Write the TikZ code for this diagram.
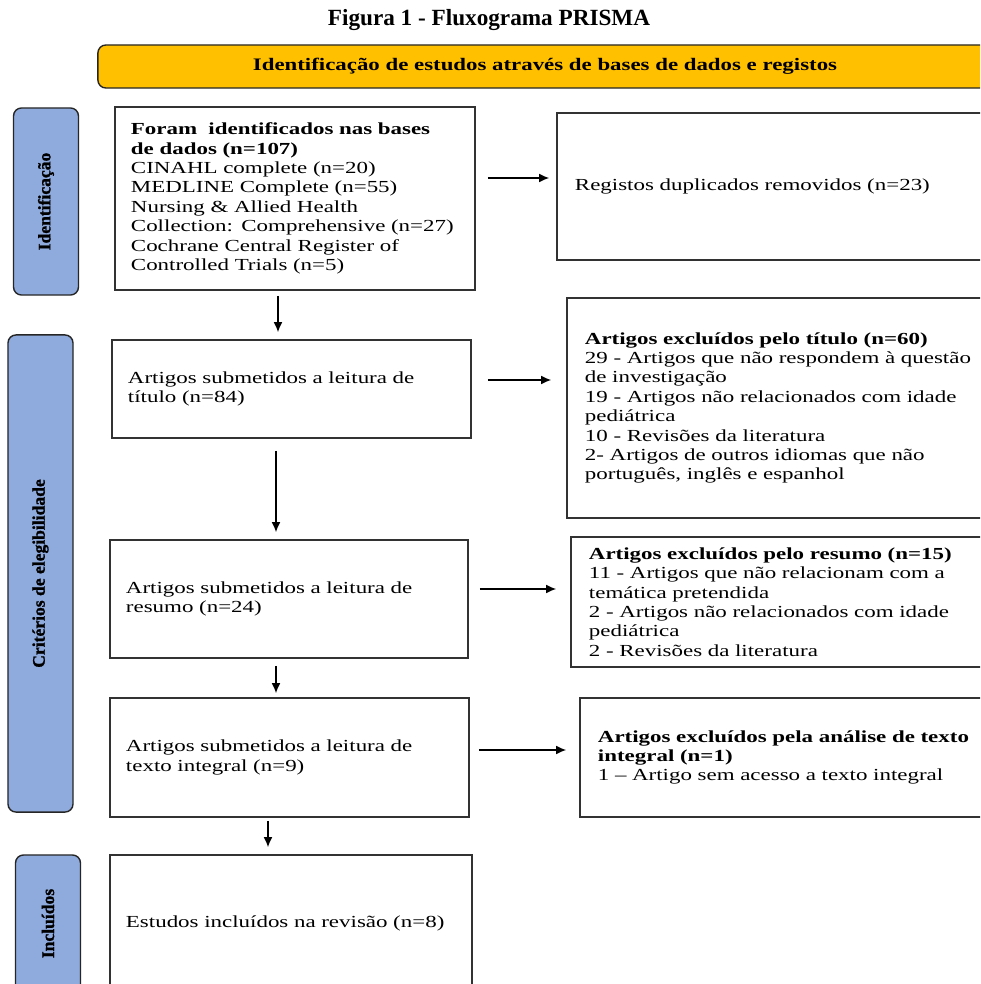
\documentclass[tikz,border=0pt]{standalone}
\usepackage{fontspec}
\setmainfont{Liberation Serif}
\newfontfamily\boxfont[FakeStretch=1.36]{Liberation Serif}
\newfontfamily\bannerfont[FakeStretch=1.3]{Liberation Serif}
\newfontfamily\sidefont[BoldFeatures={FakeBold=1.2}]{Liberation Serif}
\usetikzlibrary{positioning,arrows.meta}
\definecolor{bannerfill}{RGB}{255,192,0}
\definecolor{sidefill}{RGB}{143,170,220}
\definecolor{boxline}{RGB}{50,50,50}
\tikzset{
  mainbox/.style={draw=boxline, line width=1.1pt, rectangle, align=left,
    inner xsep=0.4cm, inner ysep=0.1cm,
    font=\boxfont\fontsize{12}{13.8}\selectfont},
  sidebox/.style={draw=black!85, fill=sidefill, line width=1pt,
    rounded corners=0.2cm, rotate=90, minimum height=1.625cm,
    font=\sidefont\bfseries\fontsize{12.5}{14}\selectfont},
  arr/.style={-{Latex[length=0.25cm,width=0.22cm]}, line width=0.9pt}
}
\begin{document}
\begin{tikzpicture}[x=0.025cm, y=-0.025cm]
  \useasboundingbox (0,0) rectangle (980,984);
  \clip (0,0) rectangle (980,984);

  % title and banner
  \node[font=\bfseries\fontsize{16.5}{19}\selectfont] (title) at (489,20)
    {Figura 1 - Fluxograma PRISMA};
  \node[draw=black!85, fill=bannerfill, line width=1pt, rounded corners=0.2cm,
    minimum width=22.35cm, minimum height=1.075cm,
    font=\bannerfont\bfseries\fontsize{12.5}{14}\selectfont] (banner) at (545,66.5)
    {Identificação de estudos através de bases de dados e registos};

  % phases
  \node[sidebox, minimum width=4.675cm] (ident) at (46,201.5) {Identificação};
  \node[sidebox, minimum width=11.925cm] (crit) at (40.5,573.5) {Critérios de elegibilidade};
  \node[sidebox, minimum width=3.425cm] (incl) at (48,923.5) {Incluídos};

  % main column
  \node[mainbox, text width=8.2cm, minimum height=4.575cm] (ids) at (295,198.5)
    {\textbf{Foram\ \ identificados nas bases}\\
     \textbf{de dados (n=107)}\\
     CINAHL complete (n=20)\\
     MEDLINE Complete (n=55)\\
     Nursing \& Allied Health\\
     Collection: Comprehensive (n=27)\\
     Cochrane Central Register of\\
     Controlled Trials (n=5)};
  \node[mainbox, text width=8.175cm, minimum height=2.45cm] (titulo) at (291.5,389)
    {Artigos submetidos a leitura de\\ título (n=84)};
  \node[mainbox, text width=8.15cm, minimum height=2.95cm] (resumo) at (289,599)
    {Artigos submetidos a leitura de\\ resumo (n=24)};
  \node[mainbox, text width=8.175cm, minimum height=2.975cm] (integral) at (289.5,757.5)
    {Artigos submetidos a leitura de\\ texto integral (n=9)};
  \node[mainbox, text width=8.25cm, minimum height=3.425cm] (incluidos) at (291,923.5)
    {Estudos incluídos na revisão (n=8)};

  % exclusions
  \node[mainbox, inner xsep=0.45cm, text width=10.175cm, minimum height=3.675cm] (dup) at (778.5,186.5)
    {Registos duplicados removidos (n=23)};
  \node[mainbox, inner xsep=0.45cm, text width=9.925cm, minimum height=5.5cm] (extitulo) at (783.5,408)
    {\textbf{Artigos excluídos pelo título (n=60)}\\
     29 - Artigos que não respondem à questão\\
     de investigação\\
     19 - Artigos não relacionados com idade\\
     pediátrica\\
     10 - Revisões da literatura\\
     2- Artigos de outros idiomas que não\\
     português, inglês e espanhol};
  \node[mainbox, inner xsep=0.45cm, text width=9.825cm, minimum height=3.25cm] (exresumo) at (785.5,602)
    {\textbf{Artigos excluídos pelo resumo (n=15)}\\
     11 - Artigos que não relacionam com a\\
     temática pretendida\\
     2 - Artigos não relacionados com idade\\
     pediátrica\\
     2 - Revisões da literatura};
  \node[mainbox, inner xsep=0.45cm, text width=9.6cm, minimum height=2.975cm] (exintegral) at (790,757.5)
    {\textbf{Artigos excluídos pela análise de texto}\\
     \textbf{integral (n=1)}\\
     1 – Artigo sem acesso a texto integral};

  % arrows to the right
  \coordinate (h1) at ([yshift=0.5125cm]ids.east);
  \coordinate (h2) at ([yshift=0.225cm]titulo.east);
  \coordinate (h3) at ([yshift=0.25cm]resumo.east);
  \coordinate (h4) at ([yshift=0.1875cm]integral.east);
  \draw[arr, shorten <=0.3cm, shorten >=0.175cm] (h1) -- (h1 -| dup.west);
  \draw[arr, shorten <=0.4cm, shorten >=0.375cm] (h2) -- (h2 -| extitulo.west);
  \draw[arr, shorten <=0.275cm, shorten >=0.35cm] (h3) -- (h3 -| exresumo.west);
  \draw[arr, shorten <=0.225cm, shorten >=0.325cm] (h4) -- (h4 -| exintegral.west);

  % arrows down
  \coordinate (v1) at ([xshift=-0.425cm]ids.south);
  \coordinate (v2) at ([xshift=-0.3875cm]titulo.south);
  \coordinate (v3) at ([xshift=-0.325cm]resumo.south);
  \coordinate (v4) at ([xshift=-0.5375cm]integral.south);
  \draw[arr, shorten <=0.125cm, shorten >=0.175cm] (v1) -- (v1 |- titulo.north);
  \draw[arr, shorten <=0.3cm, shorten >=0.175cm] (v2) -- (v2 |- resumo.north);
  \draw[arr, shorten <=0.175cm, shorten >=0.1cm] (v3) -- (v3 |- integral.north);
  \draw[arr, shorten <=0.075cm, shorten >=0.175cm] (v4) -- (v4 |- incluidos.north);
\end{tikzpicture}
\end{document}
